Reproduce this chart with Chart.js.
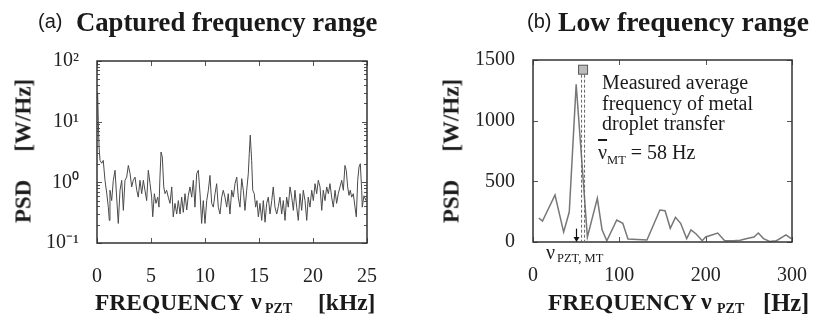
<!DOCTYPE html>
<html><head><meta charset="utf-8">
<script src="https://cdn.jsdelivr.net/npm/chart.js@4.4.1/dist/chart.umd.min.js"></script>
<style>
html,body{margin:0;padding:0;background:#fff;}
#wrap{position:relative;width:821px;height:322px;overflow:hidden;font-family:"Liberation Serif","Times New Roman",serif;color:#1a1a1a;}
canvas{position:absolute;top:0;}
.t{position:absolute;white-space:pre;line-height:1;}
.b{font-weight:bold;}
.sans{font-family:"Liberation Sans",Arial,sans-serif;}
.rot{transform:translate(-50%,-50%) rotate(-90deg);transform-origin:center center;}
</style>
</head><body>
<div id="wrap">
<canvas id="cA" width="420" height="322" style="left:0"></canvas>
<canvas id="cB" width="401" height="322" style="left:420px"></canvas>

<div class="t sans" style="left:38px;top:11px;font-size:20px;">(a)</div>
<div class="t b" style="left:76px;top:9px;font-size:26.7px;">Captured frequency range</div>
<div class="t sans" style="left:527px;top:11px;font-size:20px;">(b)</div>
<div class="t b" style="left:558px;top:8px;font-size:27.6px;">Low frequency range</div>

<div class="t b rot" style="left:23px;top:151px;font-size:23px;">PSD<span style="margin-left:28px">[W/Hz]</span></div>
<div class="t b rot" style="left:451px;top:151px;font-size:23px;">PSD<span style="margin-left:28px">[W/Hz]</span></div>

<div class="t b" style="left:95px;top:291px;font-size:23.5px;">FREQUENCY</div>
<div class="t b" style="left:251px;top:289px;font-size:24px;">ν</div>
<div class="t b" style="left:265px;top:302px;font-size:14px;">PZT</div>
<div class="t b" style="left:318px;top:291px;font-size:23.5px;">[kHz]</div>

<div class="t b" style="left:548px;top:291px;font-size:23.5px;">FREQUENCY</div>
<div class="t b" style="left:701px;top:289px;font-size:24px;">ν</div>
<div class="t b" style="left:717px;top:302px;font-size:14px;">PZT</div>
<div class="t b" style="left:763px;top:291px;font-size:24.5px;">[Hz]</div>

<div class="t" style="left:602px;top:72px;font-size:20px;line-height:20.5px;">Measured average
frequency of metal
droplet transfer</div>
<div class="t" style="left:598px;top:142px;font-size:20px;"><span style="text-decoration:overline;">ν</span><span style="font-size:12.5px;position:relative;top:5px;">MT</span> = 58 Hz</div>

<div class="t" style="left:546px;top:242px;font-size:20px;">ν</div>
<div class="t" style="left:557px;top:252px;font-size:12.5px;">PZT, MT</div>
</div>

<script>
// ---------- data: panel (a) captured frequency range (kHz, W/Hz) ----------
const freqA = [0.06,0.12,0.19,0.28,0.44,0.58,0.74,0.90,1.05,1.14,1.20,1.36,1.51,1.67,1.82,1.97,2.13,2.29,2.44,2.59,2.75,2.90,3.06,3.21,3.36,3.52,3.68,3.82,3.98,4.14,4.29,4.44,4.60,4.75,4.91,5.06,5.16,5.31,5.46,5.62,5.74,5.83,5.93,6.05,6.18,6.30,6.45,6.60,6.76,6.92,7.06,7.22,7.38,7.53,7.69,7.84,7.99,8.15,8.31,8.45,8.61,8.77,8.92,9.07,9.23,9.38,9.54,9.69,9.84,10.00,10.16,10.31,10.46,10.62,10.77,10.93,11.08,11.23,11.39,11.55,11.69,11.85,12.01,12.15,12.31,12.47,12.62,12.78,12.94,13.08,13.24,13.40,13.55,13.70,13.86,14.01,14.10,14.19,14.32,14.42,14.56,14.69,14.81,14.94,15.09,15.25,15.40,15.56,15.71,15.86,16.02,16.18,16.32,16.48,16.64,16.79,16.94,17.10,17.25,17.41,17.56,17.71,17.87,18.03,18.18,18.33,18.49,18.64,18.80,18.95,19.10,19.26,19.42,19.56,19.72,19.88,20.03,20.19,20.34,20.49,20.65,20.81,20.95,21.11,21.27,21.42,21.57,21.73,21.88,22.04,22.19,22.34,22.50,22.66,22.81,22.96,23.08,23.21,23.33,23.45,23.58,23.73,23.89,24.01,24.14,24.26,24.38,24.51,24.56,24.72,24.91];
const psdA = [30,10.5,3.8,2.3,2.06,2.3,1.08,0.66,0.39,0.236,0.74,0.5,1.08,1.58,0.57,0.21,0.74,1.08,0.345,1.08,1.22,1.9,1.4,0.84,1.08,1.22,0.74,0.57,1.08,0.65,1.08,0.74,0.5,1.58,0.96,0.57,0.27,0.65,0.45,0.57,0.39,1.22,3.16,2.6,0.84,0.65,0.74,0.57,0.45,0.84,0.27,0.45,0.3,0.5,0.3,0.57,0.32,0.65,0.35,0.6,0.84,0.57,1.08,0.39,1.39,1.58,0.65,0.21,0.5,0.21,0.5,0.74,1.3,0.45,0.39,0.65,0.95,0.39,0.3,0.57,0.74,0.57,0.39,0.65,0.3,0.74,0.57,0.95,1.22,0.57,0.39,1.15,0.74,0.345,0.74,1.39,2.97,6.0,2.3,0.74,0.65,0.39,0.5,0.27,0.45,0.236,0.5,0.22,0.45,0.57,0.3,0.5,0.84,0.39,0.3,0.4,0.57,0.3,0.5,0.236,0.57,0.39,0.84,0.57,0.345,0.74,0.39,0.236,0.65,0.345,0.74,0.5,0.236,0.57,0.39,0.74,0.5,0.95,0.65,1.08,0.84,0.345,0.74,0.5,0.84,0.65,0.95,0.57,0.39,0.74,0.45,0.65,0.84,1.08,0.74,1.9,1.58,0.84,0.61,0.74,0.57,0.65,0.39,0.27,1.08,1.79,2.03,0.74,0.39,0.6,0.5];
const xTicksA = [0,5,10,15,20,25];
const yTicksA = [0.1,1,10,100];
const yLabelsA = ['10⁻¹','10⁰','10¹','10²'];

// ---------- data: panel (b) low frequency range (Hz, W/Hz) ----------
const freqB = [6.7,11,25.5,35.5,42,50,63,74.5,80,85.5,97,104,110,121,132,138,147,153,159,165,171,178,183,189,196,200,214,222,232,240,248,256,261,267,274,282,293,299];
const psdB = [198,173,387,82,247,1300,40,360,100,10,181,154,25,20,16,115,264,258,113,203,154,28,99,66,11,41,74,11,11,15,28,41,74,28,5,11,58,28];
const xTicksB = [0,100,200,300];
const yTicksB = [0,500,1000,1500];
const markerFreq = 58;      // measured average metal transfer frequency
const markerPSD = 1420;
const arrowFreq = 50;       // nu_PZT,MT
const arrowTopPSD = 110;

const tickFont = {family:'Liberation Serif', size:20};
const tickColor = '#222';

const framePlugin = {
  id:'frame',
  afterDatasetsDraw(chart, args, o){
    const {ctx, chartArea:a} = chart;
    const x = chart.scales.x, y = chart.scales.y;
    ctx.save();
    ctx.strokeStyle = '#555'; ctx.lineWidth = 1;
    ctx.beginPath();
    (o.xTicks||[]).forEach(v=>{const p=Math.round(x.getPixelForValue(v))+0.5;
      ctx.moveTo(p,a.bottom); ctx.lineTo(p,a.bottom-o.major);
      ctx.moveTo(p,a.top); ctx.lineTo(p,a.top+o.major);});
    (o.yTicks||[]).forEach(v=>{const p=Math.round(y.getPixelForValue(v))+0.5;
      ctx.moveTo(a.left,p); ctx.lineTo(a.left+o.major,p);
      ctx.moveTo(a.right,p); ctx.lineTo(a.right-o.major,p);});
    (o.yMinor||[]).forEach(v=>{const p=Math.round(y.getPixelForValue(v))+0.5;
      ctx.moveTo(a.left,p); ctx.lineTo(a.left+o.minor,p);
      ctx.moveTo(a.right,p); ctx.lineTo(a.right-o.minor,p);});
    ctx.stroke();
    ctx.strokeStyle = '#333'; ctx.lineWidth = 1.5;
    ctx.strokeRect(a.left, a.top, a.right-a.left, a.bottom-a.top);
    ctx.restore();
  }
};

const markPlugin = {
  id:'mark',
  afterDatasetsDraw(chart, args, o){
    if(!o.on) return;
    const {ctx} = chart; const x = chart.scales.x, y = chart.scales.y;
    ctx.save();
    const mx = x.getPixelForValue(markerFreq);
    const y0 = y.getPixelForValue(0), y1 = y.getPixelForValue(markerPSD);
    ctx.setLineDash([3,2]);
    ctx.strokeStyle = '#666'; ctx.lineWidth = 1;
    [-1.5,1.5].forEach(d=>{ctx.beginPath();ctx.moveTo(mx+d,y1);ctx.lineTo(mx+d,y0);ctx.stroke();});
    ctx.setLineDash([]);
    ctx.fillStyle = '#bbb'; ctx.strokeStyle = '#555'; ctx.lineWidth = 1;
    ctx.fillRect(mx-4.5,y1-4.5,9,9); ctx.strokeRect(mx-4.5,y1-4.5,9,9);
    const ax = Math.round(x.getPixelForValue(arrowFreq))+0.5;
    const at = y.getPixelForValue(arrowTopPSD);
    ctx.strokeStyle = '#111'; ctx.fillStyle = '#111'; ctx.lineWidth = 1.2;
    ctx.beginPath(); ctx.moveTo(ax,at); ctx.lineTo(ax,y0-4); ctx.stroke();
    ctx.beginPath(); ctx.moveTo(ax-3,y0-5); ctx.lineTo(ax+3,y0-5); ctx.lineTo(ax,y0); ctx.closePath(); ctx.fill();
    ctx.restore();
  }
};

const minorA = [];
[0.1,1,10].forEach(d=>{for(let k=2;k<=9;k++) minorA.push(d*k);});

new Chart(document.getElementById('cA'), {
  type:'line',
  data:{datasets:[{data:freqA.map((f,i)=>({x:f,y:psdA[i]})), borderColor:'#4a4a4a', borderWidth:1, pointRadius:0, tension:0}]},
  options:{
    responsive:false, animation:false, events:[],
    layout:{padding:{top:61,right:53,left:0,bottom:0}},
    plugins:{legend:{display:false}, tooltip:{enabled:false},
      frame:{xTicks:xTicksA, yTicks:yTicksA, yMinor:minorA, major:5, minor:3}, mark:{on:false}},
    scales:{
      x:{type:'linear', min:0, max:25, grid:{display:false}, border:{display:false},
         ticks:{font:tickFont, color:tickColor, padding:14, maxRotation:0, autoSkip:false, callback:(v)=>String(v)},
         afterBuildTicks(s){s.ticks = xTicksA.map(v=>({value:v}));},
         afterFit(s){s.height = 79;}},
      y:{type:'logarithmic', min:0.1, max:100, grid:{display:false}, border:{display:false},
         ticks:{font:tickFont, color:tickColor, padding:10, autoSkip:false,
           callback:(v)=>{const i=yTicksA.indexOf(v); return i>=0?yLabelsA[i]:'';}},
         afterBuildTicks(s){s.ticks = yTicksA.map(v=>({value:v}));},
         afterFit(s){s.width = 97;}}
    }
  },
  plugins:[framePlugin, markPlugin]
});

new Chart(document.getElementById('cB'), {
  type:'line',
  data:{datasets:[{data:freqB.map((f,i)=>({x:f,y:psdB[i]})), borderColor:'#777', borderWidth:1.5, pointRadius:0, tension:0}]},
  options:{
    responsive:false, animation:false, events:[],
    layout:{padding:{top:60,right:18,left:0,bottom:0}},
    plugins:{legend:{display:false}, tooltip:{enabled:false},
      frame:{xTicks:xTicksB, yTicks:yTicksB, major:5, minor:3}, mark:{on:true}},
    scales:{
      x:{type:'linear', min:0, max:300, grid:{display:false}, border:{display:false},
         ticks:{font:tickFont, color:tickColor, padding:14, maxRotation:0, autoSkip:false, callback:(v)=>String(v)},
         afterBuildTicks(s){s.ticks = xTicksB.map(v=>({value:v}));},
         afterFit(s){s.height = 80;}},
      y:{type:'linear', min:0, max:1500, grid:{display:false}, border:{display:false},
         ticks:{font:tickFont, color:tickColor, padding:10, autoSkip:false, callback:(v)=>String(v)},
         afterBuildTicks(s){s.ticks = yTicksB.map(v=>({value:v}));},
         afterFit(s){s.width = 113;}}
    }
  },
  plugins:[framePlugin, markPlugin]
});
</script>
</body></html>
